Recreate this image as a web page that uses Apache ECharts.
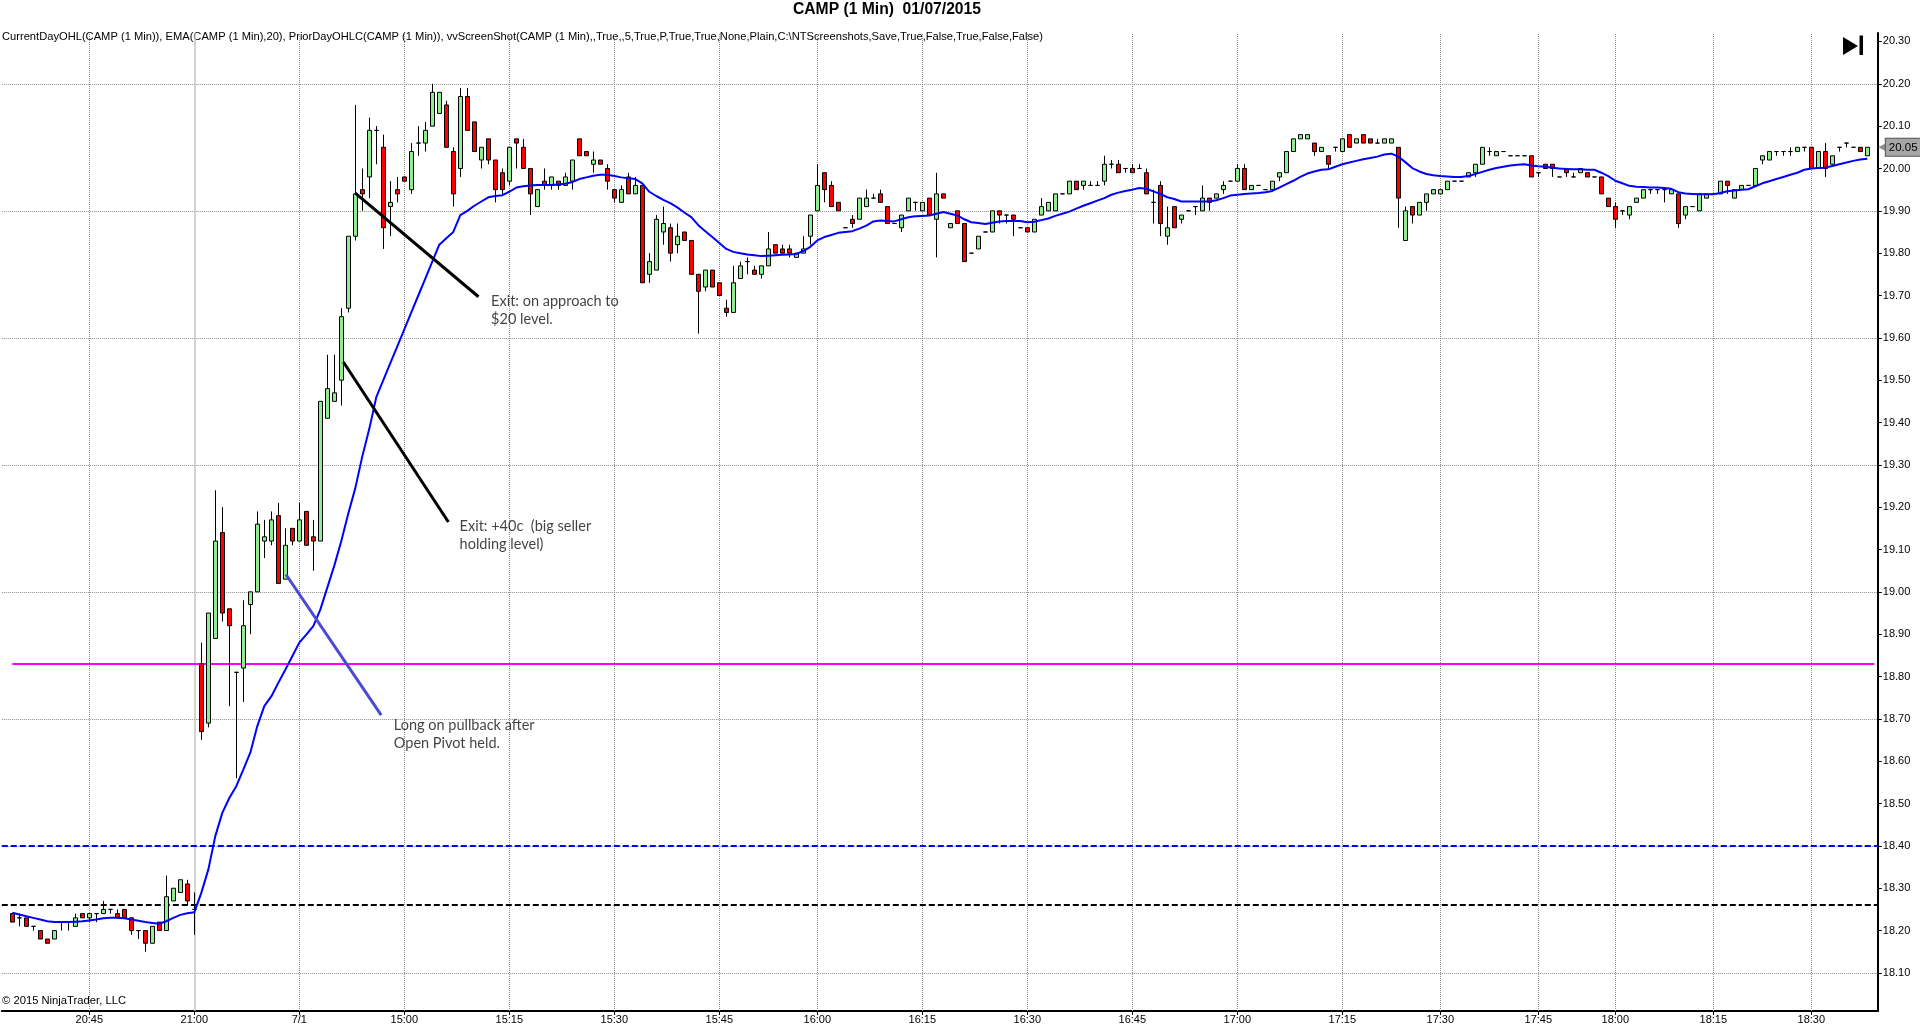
<!DOCTYPE html>
<html>
<head>
<meta charset="utf-8">
<script src="https://cdn.jsdelivr.net/npm/echarts@6/dist/echarts.min.js"></script>
<style>html,body{margin:0;padding:0;background:#fff;}#c{width:1920px;height:1034px;}</style>
</head>
<body>
<div id="c"></div>
<script>
// ---------- DATA ----------
const chartTitle = 'CAMP (1 Min)  01/07/2015';
const indicatorText = 'CurrentDayOHL(CAMP (1 Min)), EMA(CAMP (1 Min),20), PriorDayOHLC(CAMP (1 Min)), vvScreenShot(CAMP (1 Min),,True,,5,True,P,True,True,None,Plain,C:\\NTScreenshots,Save,True,False,True,False,False)';
const copyrightText = '\u00a9 2015 NinjaTrader, LLC';

// runs of consecutive 1-minute bars: [start time, bar count]
const sessionRuns = [['20:34',27],['14:31',85],['15:57',78],['17:15',8],['17:24',14],['17:39',7],['17:46',3],['17:53',7],['18:00',8],['18:09',7],['18:16',7],['18:24',15]];
const dayLabels = {'14:45':'7/1'};

const opens = [
18.24,18.23,18.23,18.21,18.20,18.18,18.18,18.22,18.22,18.21,
18.24,18.23,18.24,18.24,18.25,18.24,18.25,18.23,18.20,18.20,
18.17,18.22,18.20,18.27,18.29,18.31,18.25,18.83,18.69,18.89,
19.14,18.96,18.81,18.82,18.97,19.00,19.12,19.12,19.18,19.03,
19.15,19.12,19.19,19.13,19.12,19.41,19.45,19.50,19.67,19.84,
19.95,19.98,20.09,20.05,19.91,19.95,19.98,19.95,20.06,20.06,
20.10,20.13,20.15,20.04,20.00,20.17,20.11,20.02,20.07,20.02,
19.99,19.97,20.07,20.05,20.00,19.91,19.97,19.96,19.97,19.96,
19.97,20.07,20.04,20.01,20.02,20.00,19.95,19.92,19.98,19.94,
19.96,19.75,19.76,19.85,19.86,19.82,19.85,19.83,19.75,19.72,
19.76,19.73,19.67,19.66,19.74,19.78,19.76,19.75,19.77,19.82,
19.81,19.81,19.79,19.80,19.84,19.90,19.99,19.96,19.92,19.86,
19.88,19.88,19.91,19.93,19.94,19.91,19.87,19.86,19.90,19.92,
19.90,19.93,19.88,19.94,19.86,19.90,19.87,19.80,19.81,19.85,
19.85,19.90,19.89,19.89,19.86,19.86,19.85,19.89,19.90,19.90,
19.94,19.94,19.97,19.96,19.96,19.96,19.97,20.01,20.01,20.00,
20.00,20.00,19.99,19.92,19.96,19.84,19.91,19.88,19.90,19.91,
19.90,19.93,19.93,19.95,19.97,19.97,20.00,19.95,19.96,19.95,
19.95,19.98,19.99,20.04,20.07,20.07,20.06,20.04,20.03,20.05,
20.04,20.08,20.06,20.08,20.07,20.06,20.06,20.06,20.05,19.83,
19.91,19.89,19.92,19.94,19.94,19.95,19.97,19.97,19.98,19.99,
20.01,20.04,20.03,20.04,20.03,20.03,20.03,20.03,19.99,20.01,
20.01,19.98,20.00,19.98,19.99,19.99,19.98,19.98,19.93,19.91,
19.90,19.89,19.92,19.93,19.95,19.95,19.95,19.94,19.94,19.89,
19.91,19.90,19.93,19.94,19.94,19.97,19.93,19.95,19.96,19.96,
20.02,20.02,20.04,20.04,20.04,20.04,20.05,20.05,20.00,20.04,
20.01,20.05,20.06,20.05,20.05,20.03];

const closes = [
18.22,18.23,18.21,18.21,18.18,18.17,18.20,18.22,18.22,18.23,
18.23,18.24,18.24,18.25,18.25,18.23,18.23,18.20,18.20,18.17,
18.21,18.20,18.28,18.30,18.32,18.27,18.25,18.67,18.95,19.12,
18.95,18.92,18.81,18.92,19.00,19.16,19.13,19.17,19.02,19.11,
19.12,19.17,19.11,19.12,19.45,19.48,19.47,19.65,19.84,19.94,
19.94,20.09,20.09,19.86,19.92,19.94,19.97,20.04,20.06,20.09,
20.18,20.18,20.05,19.94,20.17,20.09,20.04,20.05,20.02,19.95,
19.95,20.05,20.06,20.00,19.94,19.95,19.96,19.98,19.96,19.98,
20.02,20.03,20.03,20.02,20.01,19.97,19.93,19.95,19.94,19.96,
19.73,19.78,19.88,19.87,19.80,19.84,19.83,19.75,19.71,19.76,
19.72,19.70,19.66,19.73,19.77,19.78,19.75,19.77,19.81,19.80,
19.80,19.80,19.80,19.81,19.89,19.96,19.95,19.91,19.90,19.86,
19.87,19.93,19.93,19.93,19.92,19.87,19.87,19.89,19.93,19.92,
19.92,19.89,19.94,19.93,19.87,19.87,19.78,19.80,19.84,19.85,
19.90,19.89,19.89,19.88,19.86,19.85,19.88,19.91,19.92,19.94,
19.94,19.97,19.95,19.97,19.96,19.96,20.01,20.01,19.99,20.00,
19.99,20.00,19.94,19.92,19.87,19.86,19.86,19.89,19.90,19.91,
19.93,19.92,19.94,19.96,19.97,20.00,19.95,19.96,19.96,19.95,
19.97,19.99,20.04,20.07,20.08,20.08,20.04,20.05,20.01,20.05,
20.07,20.05,20.07,20.06,20.06,20.06,20.07,20.07,19.93,19.90,
19.89,19.92,19.94,19.95,19.95,19.97,19.97,19.97,19.99,20.01,
20.05,20.04,20.04,20.04,20.03,20.03,20.03,19.98,19.99,20.00,
20.00,19.98,19.99,19.98,20.00,19.98,19.98,19.94,19.91,19.88,
19.90,19.91,19.93,19.95,19.95,19.95,19.95,19.95,19.87,19.91,
19.91,19.94,19.94,19.94,19.97,19.96,19.95,19.96,19.96,20.00,
20.03,20.04,20.04,20.04,20.04,20.05,20.05,20.00,20.04,20.00,
20.03,20.05,20.06,20.05,20.04,20.05];

const lows = [
18.22,18.21,18.21,18.20,18.18,18.17,18.18,18.20,18.20,18.21,
18.23,18.22,18.22,18.24,18.24,18.23,18.23,18.19,18.18,18.15,
18.17,18.20,18.20,18.27,18.29,18.26,18.19,18.65,18.68,18.89,
18.93,18.73,18.56,18.74,18.90,19.00,19.08,19.11,19.02,19.03,
19.11,19.12,19.11,19.05,19.12,19.41,19.45,19.44,19.66,19.83,
19.90,19.93,20.01,19.81,19.84,19.92,19.97,19.94,20.03,20.04,
20.10,20.13,20.05,19.91,19.98,20.09,20.04,20.00,20.01,19.92,
19.94,19.96,20.00,20.00,19.89,19.91,19.95,19.95,19.95,19.96,
19.95,20.03,20.03,19.99,20.01,19.95,19.92,19.92,19.94,19.94,
19.73,19.73,19.76,19.82,19.78,19.80,19.83,19.75,19.61,19.71,
19.72,19.70,19.65,19.66,19.74,19.75,19.75,19.74,19.77,19.80,
19.80,19.79,19.79,19.80,19.82,19.90,19.92,19.91,19.90,19.86,
19.86,19.88,19.91,19.93,19.92,19.87,19.87,19.85,19.90,19.90,
19.90,19.89,19.79,19.93,19.86,19.87,19.78,19.80,19.81,19.85,
19.85,19.87,19.87,19.84,19.86,19.85,19.85,19.89,19.90,19.90,
19.94,19.94,19.95,19.95,19.96,19.96,19.96,20.00,19.99,19.99,
19.99,20.00,19.94,19.87,19.84,19.82,19.86,19.87,19.90,19.89,
19.90,19.90,19.93,19.94,19.97,19.97,19.95,19.95,19.96,19.95,
19.95,19.97,19.99,20.04,20.07,20.07,20.03,20.04,20.00,20.04,
20.04,20.05,20.06,20.06,20.06,20.06,20.06,20.06,19.86,19.83,
19.87,19.89,19.90,19.94,19.94,19.95,19.97,19.97,19.98,19.98,
20.01,20.03,20.03,20.04,20.03,20.03,20.03,19.98,19.98,20.00,
19.98,19.98,19.98,19.98,19.99,19.98,19.98,19.94,19.91,19.86,
19.89,19.88,19.92,19.93,19.94,19.94,19.92,19.94,19.86,19.88,
19.91,19.90,19.93,19.94,19.94,19.94,19.93,19.95,19.96,19.96,
20.01,20.02,20.03,20.03,20.03,20.04,20.04,20.00,20.00,19.98,
20.01,20.04,20.05,20.05,20.04,20.03];

const highs = [
18.24,18.24,18.23,18.21,18.20,18.18,18.20,18.22,18.22,18.24,
18.24,18.24,18.24,18.27,18.25,18.25,18.25,18.23,18.20,18.20,
18.21,18.22,18.33,18.30,18.32,18.32,18.29,18.88,18.95,19.24,
19.20,18.96,18.81,18.98,19.00,19.19,19.17,19.19,19.21,19.15,
19.15,19.21,19.19,19.17,19.45,19.56,19.56,19.67,19.84,20.15,
20.00,20.12,20.10,20.08,19.97,19.98,19.98,20.06,20.10,20.11,
20.20,20.18,20.16,20.05,20.19,20.19,20.11,20.05,20.07,20.02,
20.00,20.05,20.07,20.07,20.00,19.95,20.00,19.98,19.97,19.99,
20.02,20.07,20.04,20.04,20.02,20.01,19.95,19.96,19.99,19.98,
19.96,19.80,19.89,19.91,19.87,19.87,19.85,19.83,19.75,19.76,
19.76,19.73,19.69,19.77,19.78,19.79,19.77,19.77,19.85,19.82,
19.82,19.82,19.80,19.84,19.89,20.01,19.99,19.97,19.92,19.86,
19.89,19.93,19.95,19.94,19.95,19.91,19.87,19.89,19.93,19.92,
19.92,19.93,19.99,19.94,19.87,19.90,19.87,19.80,19.84,19.85,
19.90,19.90,19.89,19.89,19.86,19.86,19.88,19.93,19.92,19.94,
19.94,19.97,19.97,19.97,19.97,19.97,20.03,20.02,20.02,20.00,
20.01,20.01,20.00,19.95,19.97,19.91,19.91,19.89,19.90,19.91,
19.96,19.93,19.94,19.97,19.97,20.01,20.01,19.96,19.96,19.95,
19.97,19.99,20.04,20.07,20.08,20.08,20.06,20.05,20.03,20.05,
20.07,20.08,20.07,20.08,20.07,20.07,20.07,20.07,20.05,19.91,
19.91,19.92,19.94,19.95,19.95,19.97,19.97,19.97,19.99,20.01,
20.05,20.05,20.04,20.04,20.03,20.03,20.03,20.03,19.99,20.01,
20.01,19.98,20.00,19.99,20.00,19.99,19.98,19.98,19.93,19.92,
19.90,19.91,19.93,19.95,19.95,19.95,19.95,19.95,19.94,19.91,
19.91,19.94,19.94,19.94,19.97,19.97,19.95,19.96,19.96,20.00,
20.03,20.04,20.04,20.04,20.05,20.05,20.05,20.05,20.04,20.06,
20.03,20.05,20.06,20.05,20.05,20.05];

const ema20 = [
18.242,18.238,18.234,18.230,18.226,18.222,18.220,18.220,18.220,18.221,
18.222,18.224,18.226,18.229,18.230,18.230,18.229,18.226,18.223,18.220,
18.218,18.216,18.222,18.230,18.237,18.241,18.243,18.289,18.344,18.423,
18.478,18.513,18.541,18.580,18.620,18.683,18.730,18.753,18.785,18.816,
18.848,18.880,18.899,18.919,18.958,19.010,19.062,19.120,19.185,19.245,
19.320,19.385,19.460,19.500,19.540,19.580,19.620,19.660,19.700,19.740,
19.780,19.820,19.835,19.850,19.890,19.900,19.912,19.922,19.932,19.935,
19.937,19.945,19.955,19.958,19.960,19.961,19.961,19.961,19.962,19.964,
19.968,19.975,19.979,19.983,19.985,19.985,19.982,19.979,19.977,19.975,
19.965,19.945,19.935,19.926,19.918,19.908,19.896,19.885,19.866,19.852,
19.838,19.824,19.810,19.803,19.800,19.797,19.795,19.793,19.794,19.795,
19.796,19.797,19.798,19.805,19.815,19.830,19.838,19.843,19.848,19.850,
19.852,19.858,19.865,19.875,19.877,19.876,19.875,19.880,19.885,19.887,
19.888,19.889,19.893,19.897,19.893,19.889,19.880,19.873,19.871,19.869,
19.872,19.875,19.876,19.876,19.876,19.873,19.874,19.878,19.882,19.888,
19.893,19.898,19.905,19.912,19.918,19.924,19.930,19.938,19.943,19.947,
19.950,19.954,19.952,19.946,19.940,19.932,19.928,19.922,19.922,19.922,
19.922,19.922,19.925,19.930,19.936,19.938,19.940,19.941,19.942,19.944,
19.947,19.955,19.963,19.971,19.980,19.988,19.993,19.997,19.998,20.004,
20.010,20.014,20.018,20.022,20.025,20.028,20.033,20.035,20.028,20.015,
20.001,19.993,19.987,19.984,19.982,19.981,19.980,19.980,19.982,19.987,
19.992,19.997,20.001,20.004,20.007,20.009,20.010,20.007,20.005,20.004,
20.002,20.000,19.999,19.998,19.998,19.997,19.997,19.990,19.982,19.971,
19.965,19.959,19.957,19.956,19.955,19.955,19.954,19.952,19.944,19.941,
19.940,19.939,19.939,19.939,19.942,19.946,19.948,19.950,19.951,19.958,
19.965,19.970,19.975,19.980,19.985,19.990,19.997,20.000,20.001,20.002,
20.006,20.010,20.014,20.018,20.021,20.023];

// price levels
const priorDayHigh = 18.40;
const priorDayClose = 18.26;
const currentDayOpen = 18.83;
const priceTicks = [18.10,18.20,18.30,18.40,18.50,18.60,18.70,18.80,18.90,19.00,19.10,19.20,19.30,19.40,19.50,19.60,19.70,19.80,19.90,20.00,20.10,20.20,20.30];
const priceGridLevels = [18.10,18.40,18.70,19.00,19.30,19.60,19.90,20.20];

// hand-drawn annotations: [barIndex, price]
const annotationLines = [
  {from:[39.1,19.041], to:[52.7,18.709], color:'#4a4ad2'},
  {from:[47.3,19.543], to:[62.3,19.165], color:'#000000'},
  {from:[49.0,19.942], to:[66.6,19.697], color:'#000000'}
];
const annotationTexts = [
  {at:[54.5,18.663], text:'Long on pullback after\nOpen Pivot held.'},
  {at:[63.9,19.133], text:'Exit: +40c  (big seller\nholding level)'},
  {at:[68.4,19.666], text:'Exit: on approach to\n$20 level.'}
];

// ---------- BUILD ----------
function buildTimes(runs){
  const out=[];
  runs.forEach(([s,n])=>{
    let [h,m]=s.split(':').map(Number);
    for(let k=0;k<n;k++){
      out.push(String(h).padStart(2,'0')+':'+String(m).padStart(2,'0'));
      m++; if(m===60){m=0;h++;}
    }
  });
  return out;
}
const times = buildTimes(sessionRuns);
const cats = ['', ...times, ' '];
const labelIdx = new Set();
cats.forEach((t,i)=>{ if(t.length===5 && Number(t.slice(3))%15===0) labelIdx.add(i); });
const sessionBreak = '21:00';

const candleData = [['-','-','-','-'], ...opens.map((o,i)=>[o, closes[i], lows[i], highs[i]]), ['-','-','-','-']];
const emaData = [null, ...ema20, null];
const lastPrice = closes[closes.length-1];

const axisFont = "'Liberation Sans',Arial,sans-serif";

// condensed header text: measure and squeeze to the width seen in the screenshot
const mctx = document.createElement('canvas').getContext('2d');
function squeezed(text, font, x, y, width){
  mctx.font = font;
  const w = mctx.measureText(text).width;
  return {type:'text', x:x, y:y, scaleX: width / w, silent:true,
          style:{text:text, font:font, fill:'#000', verticalAlign:'middle', align:'left'}};
}

const vGrid = [];
cats.forEach((t,i)=>{ if(labelIdx.has(i) && t!==sessionBreak) vGrid.push({xAxis:t}); });

const series = [
  { // grid lines & price levels holder
    type:'line', data:[], xAxisIndex:0, yAxisIndex:0, silent:true,
    markLine:{
      silent:true, symbol:'none', z:1, animation:false,
      label:{show:false},
      data:[
        ...priceGridLevels.map(v=>({yAxis:v, lineStyle:{type:'dotted', color:'#8c8c8c', width:1}})),
        ...vGrid.map(d=>({...d, lineStyle:{type:'dotted', color:'#8c8c8c', width:1}})),
        {xAxis:sessionBreak, lineStyle:{type:'solid', color:'#c4c4c4', width:1.5}},
        {yAxis:priorDayHigh, lineStyle:{type:[6,3], color:'#0000ff', width:2}},
        {yAxis:priorDayClose, lineStyle:{type:[6,3], color:'#000000', width:2}},
        [{coord:[1, currentDayOpen], lineStyle:{type:'solid', color:'#ff00ff', width:2}}, {coord:[cats.length-1, currentDayOpen]}]
      ]
    }
  },
  {
    type:'candlestick', name:'CAMP', data:candleData, z:3, barWidth:5,
    itemStyle:{color:'#90ee90', color0:'#ff0000', borderColor:'#000', borderColor0:'#000', borderColorDoji:'#000', borderWidth:1},
    markLine:{
      silent:true, symbol:'none', animation:false, z:7,
      data:[{yAxis:lastPrice, lineStyle:{color:'rgba(0,0,0,0)', width:0},
        label:{show:true, position:'end', distance:0, formatter:'{a|\u25C0}{b|'+lastPrice.toFixed(2)+'}',
          rich:{a:{color:'#8f8f8f', fontSize:14, padding:[0,-3,0,0]}, b:{backgroundColor:'#a6a6a6', borderColor:'#555', borderWidth:1, padding:[3,3,2,3], color:'#000', fontSize:11.5, fontFamily:axisFont}}}}]
    }
  },
  {
    type:'line', name:'EMA', data:emaData, z:4, symbol:'none', smooth:false,
    lineStyle:{color:'#0000ff', width:2}, itemStyle:{color:'#0000ff'}
  },
  ...annotationLines.map(a=>({
    type:'line', xAxisIndex:1, yAxisIndex:0, data:[a.from, a.to], symbol:'none', z:6,
    lineStyle:{color:a.color, width:3}, silent:true
  })),
  {
    type:'scatter', xAxisIndex:1, yAxisIndex:0, symbolSize:0, z:6, silent:true,
    data:annotationTexts.map(t=>({value:t.at, name:t.text})),
    label:{show:true, position:'right', distance:0, formatter:p=>p.name, color:'#111', fontSize:14.5, lineHeight:18, fontFamily:"Lato,'Open Sans',sans-serif", align:'left'}
  }
];

const option = {
  animation:false,
  backgroundColor:'#ffffff',
  grid:{left:1.8, right:42.2, top:33, bottom:23, containLabel:false},
  xAxis:[
    {type:'category', data:cats, boundaryGap:true,
     axisLine:{show:true, onZero:false, lineStyle:{color:'#000', width:2}},
     axisTick:{show:true, alignWithLabel:true, interval:(i)=>labelIdx.has(i), length:4, lineStyle:{color:'#000'}},
     axisLabel:{interval:(i)=>labelIdx.has(i), formatter:v=>dayLabels[v]||v, fontSize:11, color:'#000', margin:3, fontFamily:axisFont},
     splitLine:{show:false}},
    {type:'value', min:-1.5, max:266.5, show:false}
  ],
  yAxis:{
    type:'value', position:'right', min:18.01, max:20.32, scale:true,
    axisLine:{show:true, onZero:false, lineStyle:{color:'#000', width:2}},
    axisTick:{show:true, length:4, customValues:priceTicks, lineStyle:{color:'#000'}},
    axisLabel:{customValues:priceTicks, formatter:v=>v.toFixed(2), fontSize:11, color:'#000', margin:5, fontFamily:axisFont},
    splitLine:{show:false}
  },
  graphic:[
    squeezed(chartTitle, "bold 16px 'Liberation Sans', Arial, sans-serif", 793, 10, 188),
    squeezed(indicatorText, "11.5px 'Liberation Sans', Arial, sans-serif", 2, 37, 1041),
    squeezed(copyrightText, "11.5px 'Liberation Sans', Arial, sans-serif", 2, 1001, 124),
    {type:'polygon', shape:{points:[[1843,37],[1843,55],[1858,46]]}, style:{fill:'#000'}},
    {type:'rect', shape:{x:1859.5, y:35.5, width:3.5, height:19.5}, style:{fill:'#000'}}
  ],
  series
};
const chart = echarts.init(document.getElementById('c'), null, {renderer:'canvas'});
chart.setOption(option);
</script>
</body>
</html>
